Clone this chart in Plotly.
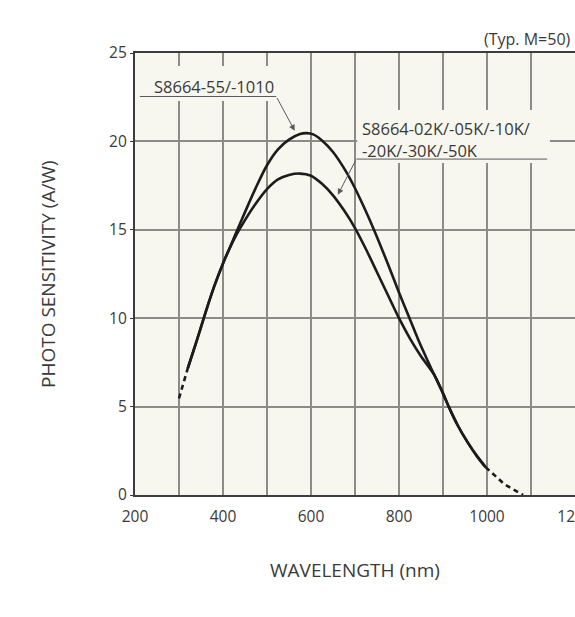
import plotly.graph_objects as go

# ---- data ----
wl_head = [300, 320]
s_head = [5.47, 7.17]

wl_a = [320, 340, 360, 380, 400, 415, 430, 450, 475, 500, 525, 550, 575, 590, 605, 625, 650, 677, 700, 720, 744, 775, 800, 823, 846, 865, 880,
        900, 914, 933, 955, 978, 997]
s_a = [7.17, 8.7, 10.3, 11.8, 13.1, 13.95, 14.85, 16.0, 17.4, 18.65, 19.55, 20.1, 20.42, 20.47, 20.4, 20.05, 19.4, 18.4, 17.35, 16.3, 14.95, 13.05, 11.45, 10.05, 8.65, 7.6, 6.8,
       5.75, 4.94, 3.96, 3.02, 2.17, 1.57]

wl_b = [320, 340, 360, 380, 400, 415, 430, 450, 475, 500, 525, 550, 575, 600, 625, 650, 675, 700, 725, 750, 775, 800, 825, 850, 880,
        900, 914, 933, 955, 978, 997]
s_b = [7.17, 8.7, 10.3, 11.8, 13.1, 13.95, 14.7, 15.55, 16.5, 17.3, 17.85, 18.1, 18.18, 18.06, 17.6, 16.95, 16.1, 15.1, 13.9, 12.6, 11.3, 10.0, 8.85, 7.85, 6.8,
       5.75, 4.94, 3.96, 3.02, 2.17, 1.57]

wl_tail = [997, 1040, 1082]
s_tail = [1.57, 0.6, 0.0]

x_ticks = [200, 400, 600, 800, 1000, 1200]
y_ticks = [0, 5, 10, 15, 20, 25]

label_a = "S8664-55/-1010"
label_b1 = "S8664-02K/-05K/-10K/"
label_b2 = "-20K/-30K/-50K"
note = "(Typ. M=50)"
x_title = "WAVELENGTH (nm)"
y_title = "PHOTO SENSITIVITY (A/W)"

# ---- style ----
INK = "#1c1c1c"
PLOT_BG = "#f7f6ef"
GRID = "#8c8b86"
TXT = "#3a3a3a"
FONT = "Open Sans"

fig = go.Figure()
line = dict(color=INK, width=2.6, shape="spline", smoothing=0.8)
fig.add_trace(go.Scatter(x=wl_a, y=s_a, mode="lines", line=line, showlegend=False))
fig.add_trace(go.Scatter(x=wl_b, y=s_b, mode="lines", line=line, showlegend=False))
dash = dict(color=INK, width=2.6, dash="5px,4px")
fig.add_trace(go.Scatter(x=wl_head, y=s_head, mode="lines", line=dash, showlegend=False))
fig.add_trace(go.Scatter(x=wl_tail, y=s_tail, mode="lines", line=dash, showlegend=False))

# label backgrounds covering the grid
fig.add_shape(type="rect", xref="x", yref="y", x0=211, x1=552, y0=22.28, y1=24.26,
              fillcolor=PLOT_BG, line_width=0, layer="between")
fig.add_shape(type="rect", xref="x", yref="y", x0=705, x1=1143, y0=18.78, y1=21.78,
              fillcolor=PLOT_BG, line_width=0, layer="between")
# leader lines
LEAD = "#5a5a5a"
fig.add_shape(type="line", xref="x", yref="y", x0=211, x1=521, y0=22.54, y1=22.54,
              line=dict(color=LEAD, width=1), layer="above")
fig.add_shape(type="line", xref="x", yref="y", x0=703, x1=1137, y0=19.0, y1=19.0,
              line=dict(color=LEAD, width=1), layer="above")
fig.add_annotation(x=563, y=20.6, ax=521, ay=22.54, axref="x", ayref="y", xref="x", yref="y",
                   text="", showarrow=True, arrowhead=2, arrowsize=1.2, arrowwidth=1, arrowcolor=LEAD)
fig.add_annotation(x=661, y=16.98, ax=703, ay=19.0, axref="x", ayref="y", xref="x", yref="y",
                   text="", showarrow=True, arrowhead=2, arrowsize=1.2, arrowwidth=1, arrowcolor=LEAD)

lab_font = dict(family=FONT, size=16.5, color=TXT)
fig.add_annotation(x=238, y=23.1, xref="x", yref="y", text=label_a, showarrow=False,
                   xanchor="left", yanchor="middle", font=lab_font)
fig.add_annotation(x=711, y=20.74, xref="x", yref="y", text=label_b1, showarrow=False,
                   xanchor="left", yanchor="middle", font=lab_font)
fig.add_annotation(x=711, y=19.51, xref="x", yref="y", text=label_b2, showarrow=False,
                   xanchor="left", yanchor="middle", font=lab_font)
fig.add_annotation(x=0.995, y=1.0317, xref="paper", yref="paper", text=note, showarrow=False,
                   xanchor="right", yanchor="middle", font=dict(family=FONT, size=16, color=TXT))
fig.add_annotation(x=0.5, y=-0.1697, xref="paper", yref="paper", text=x_title, showarrow=False,
                   xanchor="center", yanchor="middle", font=dict(family=FONT, size=19, color=TXT))
fig.add_annotation(x=-0.1977, y=0.5, xref="paper", yref="paper", text=y_title, showarrow=False,
                   textangle=-90, xanchor="center", yanchor="middle", font=dict(family=FONT, size=19, color=TXT))

fig.update_layout(
    width=575, height=617,
    margin=dict(l=135, r=0, t=53, b=122, autoexpand=False),
    paper_bgcolor="white", plot_bgcolor=PLOT_BG,
    font=dict(family=FONT, color=TXT),
    xaxis=dict(range=[200, 1200], tickvals=x_ticks, showgrid=True, gridcolor=GRID, gridwidth=1.5,
               minor=dict(dtick=100, tick0=200, showgrid=True, gridcolor=GRID, gridwidth=1.5),
               showline=True, linecolor="#3c3c3c", linewidth=2.2, mirror=True,
               ticks="", ticklabelstandoff=6, ticklabeloverflow="allow", automargin=False,
               tickfont=dict(family=FONT, size=15.5, color=TXT), zeroline=False, fixedrange=True),
    yaxis=dict(range=[0, 25], tickvals=y_ticks, showgrid=True, gridcolor=GRID, gridwidth=1.5,
               showline=True, linecolor="#3c3c3c", linewidth=2.2, mirror=False, automargin=False,
               ticks="outside", ticklen=3, tickcolor="#3c3c3c",
               tickfont=dict(family=FONT, size=15.5, color=TXT), zeroline=False, fixedrange=True),
)

fig.write_html("out.html", config={"displayModeBar": False},
               post_script="document.body.style.margin='0';document.body.style.overflow='hidden';")
